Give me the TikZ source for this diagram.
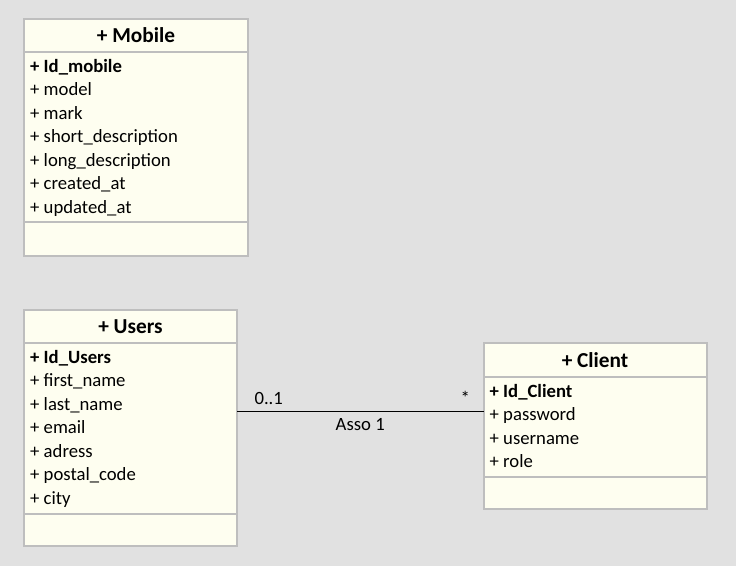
\documentclass[tikz,border=0pt]{standalone}
\usepackage{fontspec}
\setmainfont{Carlito}
\usetikzlibrary{positioning}
\definecolor{bggray}{HTML}{E1E1E1}
\definecolor{umlfill}{HTML}{FEFEF0}
\definecolor{umlborder}{HTML}{BEBEBE}

\begin{document}
\begin{tikzpicture}[x=1pt, y=-1pt, font=\fontsize{18.7}{23.5}\selectfont]
        \tikzstyle{head} = [rectangle, draw=umlborder, fill=umlfill, line width=2pt,
            minimum height=33pt, inner sep=0pt, outer sep=0pt, font=\bfseries\fontsize{21.3}{25}\selectfont]
        \tikzstyle{part} = [rectangle, draw=umlborder, fill=umlfill, line width=2pt, inner sep=0pt, outer sep=0pt]
        \tikzstyle{attrs} = [anchor=north west, align=left, inner sep=0pt]
        \tikzstyle{line} = [draw, line width=1pt]

        \fill[bggray] (0,0) rectangle (736,566);
        \useasboundingbox (0,0) rectangle (736,566);

        % Mobile
        \node [head, anchor=north west, minimum width=224pt] (mobile) at (24,19) {+ Mobile};
        \node [part, below=0pt of mobile, minimum width=224pt, minimum height=170pt] (mobileattr) {};
        \node [part, below=0pt of mobileattr, minimum width=224pt, minimum height=34pt] (mobileops) {};
        \node [attrs] at ([shift={(6,7)}]mobileattr.north west) {\textbf{+ Id\_mobile}\\+ model\\+ mark\\+ short\_description\\+ long\_description\\+ created\_at\\+ updated\_at};

        % Users
        \node [head, anchor=north west, minimum width=213pt] (users) at (24,310) {+ Users};
        \node [part, below=0pt of users, minimum width=213pt, minimum height=171pt] (usersattr) {};
        \node [part, below=0pt of usersattr, minimum width=213pt, minimum height=32pt] (usersops) {};
        \node [attrs] at ([shift={(6,7)}]usersattr.north west) {\textbf{+ Id\_Users}\\+ first\_name\\+ last\_name\\+ email\\+ adress\\+ postal\_code\\+ city};

        % Client
        \node [head, anchor=north west, minimum width=223pt, minimum height=34pt] (client) at (483.5,343) {+ Client};
        \node [part, below=0pt of client, minimum width=223pt, minimum height=100pt] (clientattr) {};
        \node [part, below=0pt of clientattr, minimum width=223pt, minimum height=32pt] (clientops) {};
        \node [attrs] at ([shift={(6,7)}]clientattr.north west) {\textbf{+ Id\_Client}\\+ password\\+ username\\+ role};

        % Asso 1
        \coordinate (asso) at (0,411);
        \path [line] (usersattr.east |- asso) -- node [midway, anchor=base, yshift=-19.7pt] (assoname) {Asso 1} (clientattr.west |- asso);
        \node [anchor=base west] (usersmult) at ([shift={(14,-6.7)}]usersattr.east |- asso) {0..1};
        \node [anchor=base east] (clientmult) at ([shift={(-10,-6.7)}]clientattr.west |- asso) {*};
      \end{tikzpicture}
\end{document}
